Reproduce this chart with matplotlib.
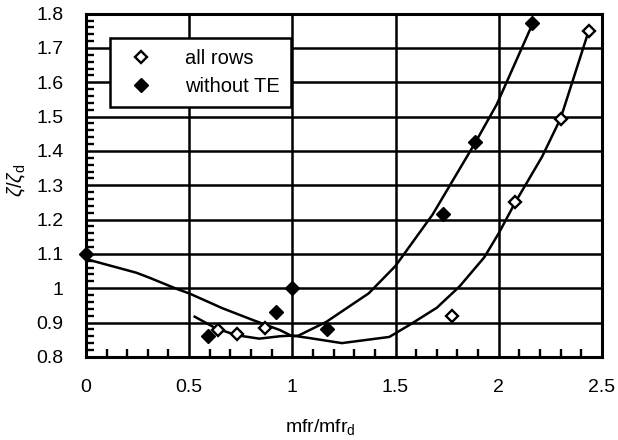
#!/usr/bin/env python3
"""Loss coefficient ratio vs. mass flow ratio, with and without TE rows."""

import matplotlib
matplotlib.use("Agg")
import matplotlib.pyplot as plt
from matplotlib.ticker import MultipleLocator, FixedLocator, FixedFormatter

# measured points
ALL_ROWS_X = [0.64, 0.73, 0.87, 1.775, 2.08, 2.30, 2.435]
ALL_ROWS_Y = [0.878, 0.868, 0.883, 0.919, 1.252, 1.492, 1.750]
NO_TE_X = [0.0, 0.59, 0.92, 1.0, 1.17, 1.73, 1.885, 2.16]
NO_TE_Y = [1.10, 0.86, 0.93, 1.0, 0.88, 1.215, 1.425, 1.772]

# trend lines
NO_TE_FIT_X = [0.0, 0.245, 0.31, 0.44, 0.50, 0.66, 0.81, 0.94, 1.0, 1.03,
               1.165, 1.37, 1.50, 1.59, 1.68, 1.89, 1.99, 2.16]
NO_TE_FIT_Y = [1.085, 1.045, 1.03, 0.998, 0.985, 0.942, 0.907, 0.878, 0.86, 0.862,
               0.902, 0.985, 1.065, 1.14, 1.215, 1.428, 1.535, 1.765]
ALL_FIT_X = [0.527, 0.63, 0.73, 0.84, 0.94, 1.0, 1.08, 1.24, 1.47, 1.565,
             1.70, 1.81, 1.93, 2.0, 2.08, 2.21, 2.30, 2.435]
ALL_FIT_Y = [0.917, 0.883, 0.863, 0.853, 0.86, 0.862, 0.855, 0.84, 0.858, 0.892,
             0.943, 1.005, 1.09, 1.16, 1.25, 1.383, 1.495, 1.748]

X_TICKS = [0, 0.5, 1, 1.5, 2, 2.5]
X_TICK_LABELS = ["0", "0.5", "1", "1.5", "2", "2.5"]
Y_TICKS = [0.8, 0.9, 1.0, 1.1, 1.2, 1.3, 1.4, 1.5, 1.6, 1.7, 1.8]
Y_TICK_LABELS = ["0.8", "0.9", "1", "1.1", "1.2", "1.3", "1.4", "1.5", "1.6", "1.7", "1.8"]

plt.rcParams["font.family"] = ["Liberation Sans", "DejaVu Sans"]
plt.rcParams["mathtext.fontset"] = "custom"
plt.rcParams["mathtext.rm"] = "Liberation Sans"
plt.rcParams["mathtext.it"] = "Liberation Sans:italic"

fig = plt.figure(figsize=(6.18, 4.4), dpi=100)
ax = fig.add_axes([0.139, 0.189, 0.835, 0.780])

ax.plot(NO_TE_FIT_X, NO_TE_FIT_Y, color="black", lw=1.8, zorder=3)
ax.plot(ALL_FIT_X, ALL_FIT_Y, color="black", lw=1.8, zorder=3)
ax.plot(ALL_ROWS_X, ALL_ROWS_Y, ls="none", marker="D", ms=6.0, mfc="white",
        mec="black", mew=1.7, label="all rows", zorder=4)
ax.plot(NO_TE_X, NO_TE_Y, ls="none", marker="D", ms=6.8, mfc="black",
        mec="black", label="without TE", zorder=4, clip_on=False)

ax.set_xlim(0, 2.5)
ax.set_ylim(0.8, 1.8)
ax.xaxis.set_major_locator(FixedLocator(X_TICKS))
ax.xaxis.set_major_formatter(FixedFormatter(X_TICK_LABELS))
ax.yaxis.set_major_locator(FixedLocator(Y_TICKS))
ax.yaxis.set_major_formatter(FixedFormatter(Y_TICK_LABELS))
ax.xaxis.set_minor_locator(MultipleLocator(0.1))
ax.yaxis.set_minor_locator(MultipleLocator(0.02))
ax.tick_params(which="both", direction="in", top=False, right=False, width=1.7,
               colors="black")
ax.tick_params(which="major", length=0, labelsize=14)
ax.tick_params(axis="x", which="major", pad=16)
ax.tick_params(axis="y", which="major", pad=16)
ax.tick_params(which="minor", length=6)

ax.grid(True, which="major", color="black", lw=1.8)
for sp in ax.spines.values():
    sp.set_linewidth(2.2)

ax.set_xlabel("mfr/mfr$_{\\mathregular{d}}$", fontsize=14)
ax.xaxis.set_label_coords(0.455, -0.175)
ax.set_ylabel(r"$\zeta/\zeta_{\mathregular{d}}$", fontsize=14.5)
ax.yaxis.set_label_coords(-0.112, 0.515)

leg = ax.legend(loc="upper left", bbox_to_anchor=(0.0465, 0.93), borderaxespad=0,
                fontsize=14.5, frameon=True, fancybox=False, handletextpad=1.2,
                borderpad=0.55, labelspacing=0.45, handlelength=2.0)
leg.get_frame().set_edgecolor("black")
leg.get_frame().set_linewidth(1.8)
leg.get_frame().set_alpha(1.0)

fig.savefig("out.png", dpi=100)
